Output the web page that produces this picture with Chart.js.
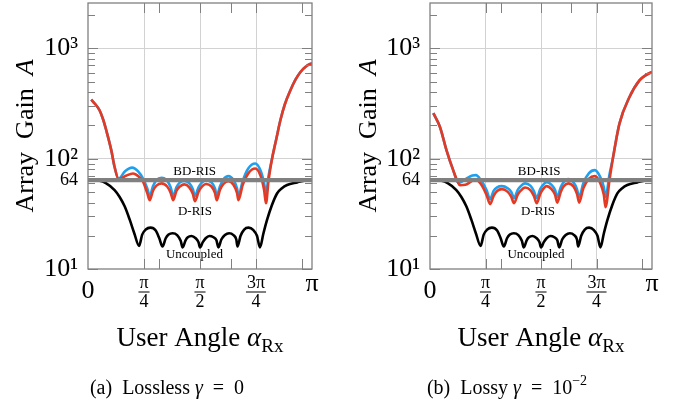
<!DOCTYPE html>
<html>
<head>
<meta charset="utf-8">
<script src="https://cdn.jsdelivr.net/npm/chart.js@4.4.1/dist/chart.umd.min.js"></script>
<style>
  html, body { margin: 0; padding: 0; background: #fff; }
  #wrap { display: flex; width: 686px; height: 404px; }
  canvas { display: block; }
</style>
</head>
<body>
<div id="wrap">
  <canvas id="chartA" width="343" height="404"></canvas>
  <canvas id="chartB" width="343" height="404"></canvas>
</div>
<script>
// valores (ângulo em rad, ganho linear)
const uncAng  = [0, 0.162, 0.25, 0.373, 0.444, 0.514, 0.585, 0.65, 0.716, 0.76, 0.81, 0.876, 0.95, 1.00, 1.045, 1.09, 1.13, 1.186, 1.25, 1.30, 1.327, 1.37, 1.40, 1.45, 1.51, 1.55, 1.571, 1.61, 1.65, 1.702, 1.76, 1.80, 1.829, 1.87, 1.92, 1.979, 2.04, 2.08, 2.096, 2.14, 2.19, 2.251, 2.32, 2.37, 2.412, 2.46, 2.51, 2.58, 2.651, 2.72, 2.792, 2.933, 3.05, 3.142];
const uncGain = [64, 63, 60, 52, 45, 37, 28, 21, 16.2, 20.5, 22.8, 23.7, 22.3, 19, 16, 19, 20.5, 21.1, 20.3, 18, 15.7, 18.3, 19.4, 19.9, 19, 17.5, 15.7, 17.5, 19, 19.9, 19.4, 18.3, 15.7, 18.5, 20.3, 21.1, 20.3, 18.5, 16, 20, 22.8, 23.7, 22.5, 20, 15.7, 21, 27.7, 38, 48.4, 54, 57.7, 61, 63.5, 64];

// (a) sem perdas
const dRisAngA   = [0.045, 0.10, 0.162, 0.21, 0.256, 0.327, 0.373, 0.43, 0.53, 0.631, 0.71, 0.772, 0.83, 0.866, 0.91, 0.96, 1.031, 1.11, 1.16, 1.195, 1.24, 1.29, 1.35, 1.42, 1.47, 1.50, 1.55, 1.60, 1.655, 1.73, 1.78, 1.806, 1.85, 1.90, 1.97, 2.04, 2.09, 2.11, 2.17, 2.25, 2.346, 2.42, 2.47, 2.496, 2.533, 2.581, 2.64, 2.698, 2.76, 2.839, 2.91, 2.98, 3.06, 3.142];
const dRisGainA  = [343, 313, 275, 229, 181, 119, 84, 65, 70, 73.5, 69, 62, 49, 42, 51, 57, 59.7, 56, 49, 42, 51, 56, 58.5, 55, 48, 41.2, 50, 56, 59, 56, 49, 42, 52, 59, 62.5, 58, 49, 42, 58, 74, 81.5, 70, 52, 39.4, 64, 100, 150, 223, 310, 417, 520, 611, 690, 736];
const bdRisAngA  = [0.045, 0.10, 0.162, 0.21, 0.256, 0.327, 0.373, 0.43, 0.52, 0.62, 0.70, 0.772, 0.83, 0.866, 0.91, 0.96, 1.031, 1.11, 1.16, 1.195, 1.24, 1.29, 1.35, 1.42, 1.47, 1.50, 1.55, 1.60, 1.655, 1.73, 1.78, 1.806, 1.85, 1.90, 1.97, 2.04, 2.09, 2.11, 2.17, 2.25, 2.346, 2.42, 2.47, 2.496, 2.533, 2.581, 2.64, 2.698, 2.76, 2.839, 2.91, 2.98, 3.06, 3.142];
const bdRisGainA = [343, 313, 275, 229, 181, 119, 84, 66, 77, 83, 77, 66, 54, 45.8, 56, 64, 67, 63, 55, 45.8, 55, 61, 63, 60, 53, 46, 55, 61, 64, 61, 54, 46, 56, 65, 69.5, 64, 54, 46, 63, 82, 90.5, 78, 60, 48.4, 70, 100, 150, 223, 310, 417, 520, 611, 690, 736];

// (b) com perdas
const dRisAngB   = [0.047, 0.141, 0.234, 0.328, 0.40, 0.423, 0.50, 0.58, 0.639, 0.72, 0.80, 0.851, 0.90, 0.95, 1.016, 1.10, 1.15, 1.19, 1.24, 1.28, 1.345, 1.42, 1.47, 1.51, 1.56, 1.60, 1.651, 1.72, 1.77, 1.801, 1.85, 1.89, 1.956, 2.03, 2.08, 2.111, 2.17, 2.25, 2.333, 2.41, 2.46, 2.484, 2.54, 2.587, 2.681, 2.823, 2.964, 3.05, 3.142];
const dRisGainB  = [259, 194, 119, 78.7, 60.4, 57.5, 58, 62, 65, 59, 47, 38.7, 46, 51, 53, 50, 45, 39.5, 47, 51, 54.8, 52, 46, 39.5, 48, 53, 56.4, 53, 47, 40, 50, 56, 59.7, 56, 48, 40, 54, 66, 69.5, 60, 47, 36.4, 64, 100, 208, 362, 513, 570, 611];
const bdRisAngB  = [0.047, 0.141, 0.234, 0.328, 0.40, 0.45, 0.53, 0.60, 0.65, 0.72, 0.80, 0.851, 0.90, 0.95, 1.016, 1.10, 1.15, 1.19, 1.24, 1.28, 1.345, 1.42, 1.47, 1.51, 1.56, 1.60, 1.651, 1.72, 1.77, 1.801, 1.85, 1.89, 1.956, 2.03, 2.08, 2.111, 2.17, 2.25, 2.333, 2.41, 2.46, 2.484, 2.54, 2.587, 2.681, 2.823, 2.964, 3.05, 3.142];
const bdRisGainB = [259, 194, 119, 78.7, 60.4, 62, 67, 70.5, 71, 64, 52, 43, 51, 55, 56.4, 54, 50, 44, 52, 56, 59.7, 57, 51, 44, 53, 58, 61.3, 58, 52, 45, 55, 61, 65.4, 61, 53, 45, 60, 74, 78.7, 68, 55, 45, 72, 100, 208, 362, 513, 570, 611];

// linha de referência N = 64
const refAng  = [0, Math.PI];
const refGain = [64, 64];

// ticks
const xGridTicks  = [0, Math.PI / 4, Math.PI / 2, 3 * Math.PI / 4, Math.PI];
const xMarkTicks  = [1, 2, 3, Math.PI / 4, Math.PI / 2, 3 * Math.PI / 4];
const yTicks      = [10, 64, 100, 1000];
const yTickLabels = ['10¹', '64', '10²', '10³'];

const serif = '"Liberation Serif", "Times New Roman", serif';
const RED = '#e43a24';
const BLUE = '#1ea0f0';
const GRAY = '#808080';

function pts(xs, ys) { return xs.map((x, i) => ({ x: x, y: ys[i] })); }

function drawRuns(ctx, runs, x, y) {
    let w = 0;
    runs.forEach(r => { ctx.font = r.font; r.w = ctx.measureText(r.t).width; w += r.w; });
    let cx = x - w / 2;
    ctx.textAlign = 'left';
    ctx.textBaseline = 'alphabetic';
    runs.forEach(r => { ctx.font = r.font; ctx.fillText(r.t, cx, y + (r.dy || 0)); cx += r.w; });
}

// desenha caixa, ticks internos, rótulos do eixo x, títulos e legenda
const decorPlugin = {
    id: 'decor',
    afterDraw(chart) {
        const ctx = chart.ctx;
        const a = chart.chartArea;
        const xs = chart.scales.x, ys = chart.scales.y;
        const cfg = chart.options.plugins.decor;
        ctx.save();

        ctx.strokeStyle = GRAY;
        ctx.lineWidth = 1;
        xMarkTicks.forEach(v => {
            const px = Math.round(xs.getPixelForValue(v)) + 0.5;
            ctx.beginPath();
            ctx.moveTo(px, a.top); ctx.lineTo(px, a.top + 10);
            ctx.moveTo(px, a.bottom); ctx.lineTo(px, a.bottom - 10);
            ctx.stroke();
        });
        for (let k = 1; k <= 3; k++) {
            for (let m = 1; m <= 9; m++) {
                const v = m * Math.pow(10, k);
                if (v > ys.max) continue;
                const len = m === 1 ? 10 : 7;
                const py = Math.round(ys.getPixelForValue(v)) + 0.5;
                ctx.beginPath();
                ctx.moveTo(a.left, py); ctx.lineTo(a.left + len, py);
                ctx.moveTo(a.right, py); ctx.lineTo(a.right - len, py);
                ctx.stroke();
            }
        }
        ctx.lineWidth = 1.3;
        ctx.strokeRect(a.left, a.top, a.right - a.left, a.bottom - a.top);

        ctx.fillStyle = '#000';
        // rótulos do eixo x
        const big = '26px ' + serif, small = '18px ' + serif;
        drawRuns(ctx, [{ t: '0', font: big }], xs.getPixelForValue(0), 298);
        drawRuns(ctx, [{ t: 'π', font: big }], xs.getPixelForValue(Math.PI), 291);
        [['π', '4', Math.PI / 4], ['π', '2', Math.PI / 2], ['3π', '4', 3 * Math.PI / 4]].forEach(f => {
            const px = xs.getPixelForValue(f[2]);
            drawRuns(ctx, [{ t: f[0], font: small }], px, 288);
            drawRuns(ctx, [{ t: f[1], font: small }], px, 307);
            ctx.font = small;
            const w = Math.max(ctx.measureText(f[0]).width, ctx.measureText(f[1]).width) + 2;
            ctx.fillRect(px - w / 2, 291.5, w, 1);
        });

        // títulos dos eixos
        const title = '27px ' + serif;
        drawRuns(ctx, [
            { t: 'User Angle ', font: title },
            { t: 'α', font: 'italic 27px ' + serif },
            { t: 'Rx', font: '19px ' + serif, dy: 6 }
        ], (a.left + a.right) / 2, 346);
        ctx.save();
        ctx.translate(33, (a.top + a.bottom) / 2);
        ctx.rotate(-Math.PI / 2);
        drawRuns(ctx, [
            { t: 'Array  Gain  ', font: big },
            { t: 'A', font: 'italic 26px ' + serif }
        ], 0, 0);
        ctx.restore();

        // rótulos das curvas
        ctx.textAlign = 'center';
        ctx.textBaseline = 'middle';
        ctx.font = '13px ' + serif;
        cfg.labels.forEach(l => {
            ctx.fillText(l.t, xs.getPixelForValue(l.x), ys.getPixelForValue(l.y));
        });

        // legenda da subfigura
        drawRuns(ctx, cfg.caption, cfg.captionX, 394);
        ctx.restore();
    }
};

function makeChart(id, dAng, dGain, bdAng, bdGain, opt) {
    const el = document.getElementById(id);
    return new Chart(el.getContext('2d'), {
        type: 'line',
        data: {
            datasets: [
                { data: pts(refAng, refGain), borderColor: GRAY, borderWidth: 4.3, order: 0 },
                { data: pts(dAng, dGain), borderColor: RED, borderWidth: 2.6, order: 1 },
                { data: pts(bdAng, bdGain), borderColor: BLUE, borderWidth: 2.6, order: 2 },
                { data: pts(uncAng, uncGain), borderColor: '#000', borderWidth: 2.6, order: 3 }
            ]
        },
        options: {
            responsive: false,
            animation: false,
            devicePixelRatio: 1,
            events: [],
            elements: {
                point: { radius: 0 },
                line: { cubicInterpolationMode: 'monotone', fill: false }
            },
            layout: { padding: { left: 0, right: opt.padRight, top: 3, bottom: 0 } },
            scales: {
                x: {
                    type: 'linear',
                    min: 0,
                    max: Math.PI,
                    afterBuildTicks: s => { s.ticks = xGridTicks.map(v => ({ value: v })); },
                    afterFit: s => { s.height = 135; s.paddingLeft = 0; s.paddingRight = 0; },
                    ticks: { display: false },
                    grid: {
                        drawTicks: false,
                        lineWidth: 1,
                        color: c => (c.tick && (c.tick.value === 0 || c.tick.value === Math.PI)) ? 'rgba(0,0,0,0)' : '#d2d2d2'
                    },
                    border: { display: false }
                },
                y: {
                    type: 'logarithmic',
                    min: 10,
                    max: 2580,
                    afterBuildTicks: s => { s.ticks = yTicks.map(v => ({ value: v })); },
                    afterFit: s => { s.width = opt.yWidth; s.paddingTop = 0; s.paddingBottom = 0; },
                    ticks: {
                        autoSkip: false,
                        padding: 10,
                        color: '#000',
                        callback: v => yTickLabels[yTicks.indexOf(v)],
                        font: c => ({ family: serif, size: (c.tick && c.tick.value === 64) ? 18 : 26 })
                    },
                    grid: {
                        drawTicks: false,
                        lineWidth: 1,
                        color: c => (c.tick && (c.tick.value === 100 || c.tick.value === 1000)) ? '#d2d2d2' : 'rgba(0,0,0,0)'
                    },
                    border: { display: false }
                }
            },
            plugins: {
                legend: { display: false },
                tooltip: { enabled: false },
                decor: opt.decor
            }
        },
        plugins: [decorPlugin]
    });
}

window._chartA = makeChart('chartA', dRisAngA, dRisGainA, bdRisAngA, bdRisGainA, {
    padRight: 31,
    yWidth: 88,
    decor: {
        labels: [
            { t: 'BD-RIS', x: 1.496, y: 77 },
            { t: 'D-RIS', x: 1.50, y: 33 },
            { t: 'Uncoupled', x: 1.493, y: 13.4 }
        ],
        captionX: 167,
        caption: [
            { t: '(a)  Lossless ', font: '20px ' + serif },
            { t: 'γ', font: 'italic 20px ' + serif },
            { t: '  =  0', font: '20px ' + serif }
        ]
    }
});

window._chartB = makeChart('chartB', dRisAngB, dRisGainB, bdRisAngB, bdRisGainB, {
    padRight: 34,
    yWidth: 87,
    decor: {
        labels: [
            { t: 'BD-RIS', x: 1.545, y: 77 },
            { t: 'D-RIS', x: 1.528, y: 33 },
            { t: 'Uncoupled', x: 1.50, y: 13.4 }
        ],
        captionX: 164,
        caption: [
            { t: '(b)  Lossy ', font: '20px ' + serif },
            { t: 'γ', font: 'italic 20px ' + serif },
            { t: '  =  10', font: '20px ' + serif },
            { t: '−2', font: '14px ' + serif, dy: -9 }
        ]
    }
});
</script>
</body>
</html>
